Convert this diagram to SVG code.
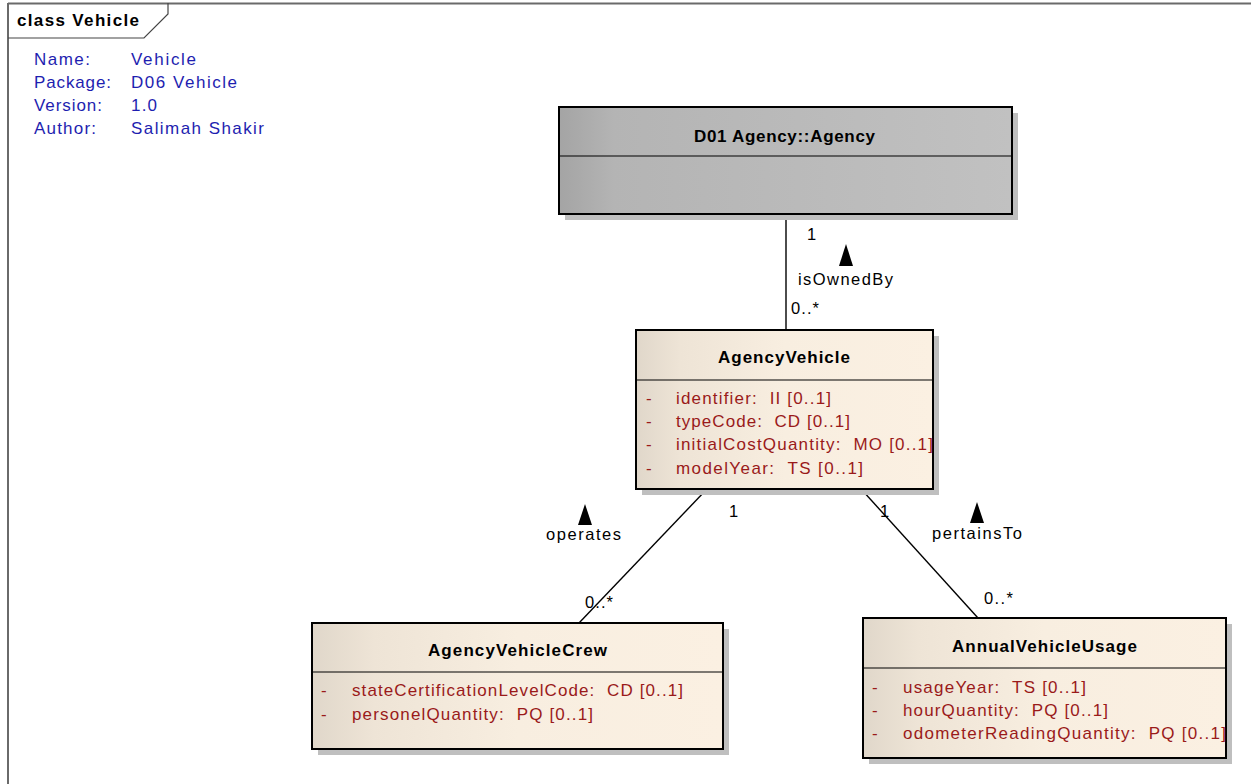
<svg xmlns="http://www.w3.org/2000/svg" width="1251" height="784" viewBox="0 0 1251 784">
<defs>
<linearGradient id="gGray" x1="0" y1="0" x2="1" y2="0">
<stop offset="0" stop-color="#A4A4A4"/>
<stop offset="0.12" stop-color="#B4B4B4"/>
<stop offset="1" stop-color="#C1C1C1"/>
</linearGradient>
<linearGradient id="gCls" x1="0" y1="0" x2="1" y2="0">
<stop offset="0" stop-color="#E0D7CA"/>
<stop offset="0.15" stop-color="#EEE4D6"/>
<stop offset="0.5" stop-color="#F8EEE0"/>
<stop offset="1" stop-color="#FBF0E2"/>
</linearGradient>
<style>
text{font-family:"Liberation Sans",Arial,sans-serif;white-space:pre;}
.box{stroke:#000;stroke-width:2;}
.shadow{fill:#BFBFBF;}
.div{stroke:#000;stroke-width:1.2;}
.title{font-size:17px;font-weight:bold;fill:#000;}
.attr{font-size:17px;fill:#9A1A1A;}
.info{font-size:17px;fill:#1E1EB0;}
.lbl{font-size:16.5px;fill:#000;}
.conn{stroke:#000;stroke-width:1.4;fill:none;}
.tri{fill:#000;}
</style>
</defs>
<rect width="1251" height="784" fill="#fff"/>

<g id="frame">
<line x1="8" y1="3.5" x2="1251" y2="3.5" stroke="#6A6A6A" stroke-width="2"/>
<line x1="8" y1="3" x2="8" y2="784" stroke="#6A6A6A" stroke-width="2"/>
<polyline points="8,38 144,38 168,14 168,3" fill="none" stroke="#444" stroke-width="1.2"/>
<text x="17" y="26" style="font-size:17px;font-weight:bold" textLength="122" lengthAdjust="spacing">class Vehicle</text>
</g>

<g id="info">
<text class="info" x="34" y="65" textLength="56" lengthAdjust="spacing">Name:</text>
<text class="info" x="131" y="65" textLength="65" lengthAdjust="spacing">Vehicle</text>
<text class="info" x="34" y="88" textLength="77" lengthAdjust="spacing">Package:</text>
<text class="info" x="131" y="88" textLength="106" lengthAdjust="spacing">D06 Vehicle</text>
<text class="info" x="34" y="111" textLength="68" lengthAdjust="spacing">Version:</text>
<text class="info" x="131" y="111" textLength="26" lengthAdjust="spacing">1.0</text>
<text class="info" x="34" y="134" textLength="62" lengthAdjust="spacing">Author:</text>
<text class="info" x="131" y="134" textLength="133" lengthAdjust="spacing">Salimah Shakir</text>
</g>

<g id="connectors">
<line class="conn" x1="786" y1="214" x2="786" y2="330"/>
<line class="conn" x1="706" y1="490" x2="579" y2="623"/>
<line class="conn" x1="862" y1="490" x2="978" y2="618"/>
<polygon class="tri" points="846,244 839,266 853,266"/>
<polygon class="tri" points="585,504 578,525 592,525"/>
<polygon class="tri" points="977,502 970,523 984,523"/>
<text class="lbl" x="807" y="240">1</text>
<text class="lbl" x="798" y="285" textLength="95" lengthAdjust="spacing">isOwnedBy</text>
<text class="lbl" x="791" y="314" textLength="28" lengthAdjust="spacing">0..*</text>
<text class="lbl" x="729" y="517">1</text>
<text class="lbl" x="546" y="540" textLength="75" lengthAdjust="spacing">operates</text>
<text class="lbl" x="585" y="608" textLength="28" lengthAdjust="spacing">0..*</text>
<text class="lbl" x="880" y="517">1</text>
<text class="lbl" x="932" y="539" textLength="90" lengthAdjust="spacing">pertainsTo</text>
<text class="lbl" x="984" y="604" textLength="29" lengthAdjust="spacing">0..*</text>
</g>

<g id="agency">
<rect class="shadow" x="565" y="113" width="453" height="107"/>
<rect class="box" x="559" y="107" width="453" height="107" fill="url(#gGray)"/>
<line class="div" x1="559" y1="156" x2="1012" y2="156"/>
<text class="title" x="694" y="142" textLength="181" lengthAdjust="spacing">D01 Agency::Agency</text>
</g>

<g id="agencyVehicle">
<rect class="shadow" x="642" y="336" width="297" height="159"/>
<rect class="box" x="636" y="330" width="297" height="159" fill="url(#gCls)"/>
<line class="div" x1="636" y1="380" x2="933" y2="380"/>
<text class="title" x="718" y="363" textLength="132" lengthAdjust="spacing">AgencyVehicle</text>
<text class="attr" x="646" y="404">-</text>
<text class="attr" x="676" y="404" textLength="155" lengthAdjust="spacing">identifier:  II [0..1]</text>
<text class="attr" x="646" y="427">-</text>
<text class="attr" x="676" y="427" textLength="174" lengthAdjust="spacing">typeCode:  CD [0..1]</text>
<text class="attr" x="646" y="450">-</text>
<text class="attr" x="676" y="450" textLength="257" lengthAdjust="spacing">initialCostQuantity:  MO [0..1]</text>
<text class="attr" x="646" y="474">-</text>
<text class="attr" x="676" y="474" textLength="187" lengthAdjust="spacing">modelYear:  TS [0..1]</text>
</g>

<g id="agencyVehicleCrew">
<rect class="shadow" x="318" y="629" width="411" height="126"/>
<rect class="box" x="312" y="623" width="411" height="126" fill="url(#gCls)"/>
<line class="div" x1="312" y1="672" x2="723" y2="672"/>
<text class="title" x="428" y="656" textLength="179" lengthAdjust="spacing">AgencyVehicleCrew</text>
<text class="attr" x="321" y="696">-</text>
<text class="attr" x="352" y="696" textLength="331" lengthAdjust="spacing">stateCertificationLevelCode:  CD [0..1]</text>
<text class="attr" x="321" y="720">-</text>
<text class="attr" x="352" y="720" textLength="241" lengthAdjust="spacing">personelQuantity:  PQ [0..1]</text>
</g>

<g id="annualVehicleUsage">
<rect class="shadow" x="869" y="624" width="363" height="140"/>
<rect class="box" x="863" y="618" width="363" height="140" fill="url(#gCls)"/>
<line class="div" x1="863" y1="668" x2="1226" y2="668"/>
<text class="title" x="952" y="652" textLength="185" lengthAdjust="spacing">AnnualVehicleUsage</text>
<text class="attr" x="872" y="693">-</text>
<text class="attr" x="903" y="693" textLength="183" lengthAdjust="spacing">usageYear:  TS [0..1]</text>
<text class="attr" x="872" y="716">-</text>
<text class="attr" x="903" y="716" textLength="205" lengthAdjust="spacing">hourQuantity:  PQ [0..1]</text>
<text class="attr" x="872" y="739">-</text>
<text class="attr" x="903" y="739" textLength="323" lengthAdjust="spacing">odometerReadingQuantity:  PQ [0..1]</text>
</g>
</svg>
